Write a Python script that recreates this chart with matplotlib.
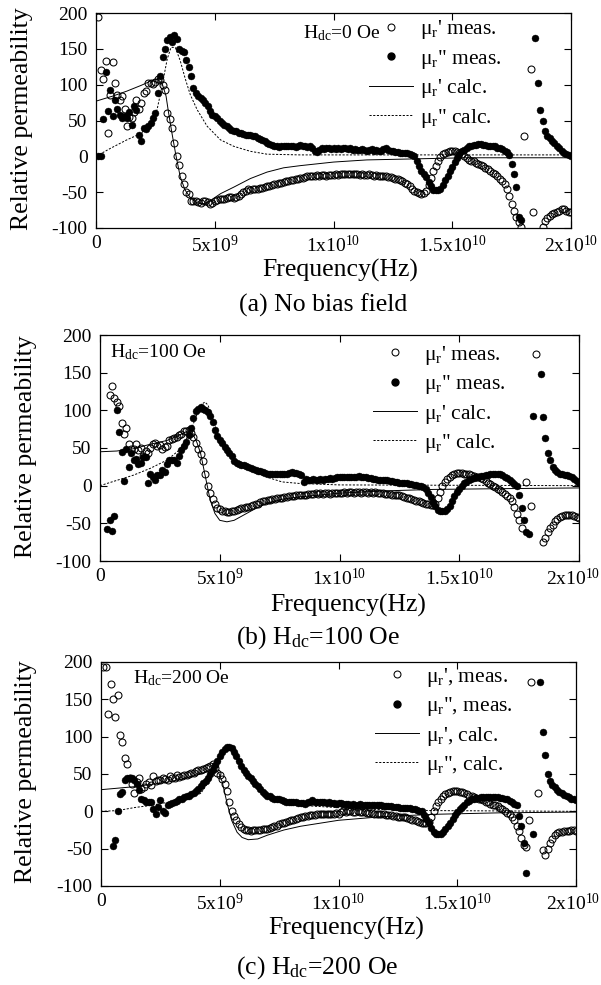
import numpy as np
import matplotlib
matplotlib.use("Agg")
import matplotlib.pyplot as plt
from matplotlib.lines import Line2D
from matplotlib.transforms import ScaledTranslation

plt.rcParams['font.family'] = 'Liberation Serif'
plt.rcParams['mathtext.fontset'] = 'custom'
plt.rcParams['mathtext.rm'] = 'Liberation Serif'
plt.rcParams['mathtext.it'] = 'Liberation Serif:italic'
plt.rcParams['mathtext.bf'] = 'Liberation Serif:bold'
plt.rcParams['axes.unicode_minus'] = False

nan = np.nan

# measurement frequencies (GHz), 0.1 GHz steps
freq_ghz = np.round(np.arange(1, 201) * 0.1, 1)

# ---- (a) no bias field ----
a_re = [194, 120, 108, 133, 32, 86, 132, 102, 86, 79,
        84, 66, 42, 55, 54, 62, 79, 66, 74, 88,
        91, 103, 102, 101, 104, 108, 106, 100, 92, 60,
        52, 40, 19, 0, -12, -27, -39, -50, -52, -63,
        -62, -63, -64, -65, -62, -63, -64, -66, -65, -62,
        -61, -60, -59, -59, -58, -57, -57, -58, -57, -55,
        -52, -50, -48, -46, -47, -46, -45, -46, -44, -44,
        -43, -42, -42, -40, -39, -39, -37, -37, -36, -35,
        -34, -33, -33, -32, -31, -30, -30, -29, -28, -28,
        -27, -27, -26, -27, -26, -26, -27, -26, -26, -26,
        -25, -26, -25, -25, -24, -25, -25, -24, -25, -25,
        -26, -25, -26, -26, -25, -26, -27, -26, -27, -27,
        -28, -28, -29, -29, -30, -31, -32, -33, -35, -37,
        -39, -42, -45, -48, -50, -51, -52, -51, -48, -40,
        -30, -20, -13, -6, -1, 3, 5, 6, 7, 8,
        7, 6, 5, 3, 0, -3, -5, -6, -7, -9,
        -11, -12, -14, -16, -18, -20, -23, -25, -28, -31,
        -34, -38, -46, -56, -66, -76, -85, -92, -98, 29,
        nan, nan, 122, -77, nan, nan, nan, -99, -90, -86,
        -83, -81, -79, -77, -76, -74, -73, -76, -77, -78]
a_im = [0, 0, 52, 117, 63, 92, 56, 79, 66, 58,
        54, 56, 53, 62, 44, 70, 65, 30, 21, 39,
        38, 42, 47, 53, 61, 88, 112, 138, 150, 163,
        166, 160, 170, 164, 150, 147, 146, 135, 124, 112,
        95, 88, 84, 81, 79, 74, 70, 63, 58, 56,
        54, 50, 46, 44, 42, 40, 37, 36, 35, 33,
        32, 31, 30, 30, 30, 29, 28, 26, 24, 23,
        21, 19, 17, 16, 14, 15, 13, 15, 14, 14,
        15, 14, 14, 13, 14, 16, 15, 14, 13, 14,
        12, 8, 6, 9, 11, 10, 12, 11, 10, 11,
        10, 11, 10, 12, 11, 10, 11, 9, 10, 9,
        9, 10, 9, 8, 9, 10, 8, 9, 8, 8,
        10, 11, 9, 8, 7, 6, 6, 5, 5, 4,
        4, 3, 2, 1, -7, -14, -20, -24, -29, -36,
        -42, -47, -47, -47, -45, -40, -33, -27, -20, -15,
        -8, -2, 3, 7, 9, 11, 14, 15, 16, 16,
        17, 17, 16, 16, 15, 15, 14, 14, 12, 11,
        10, 8, 6, 2, -10, -24, -43, -85, -89, nan,
        nan, nan, nan, nan, 165, 103, 65, 50, 36, 29,
        25, 22, 18, 14, 11, 7, 5, 3, 2, 0]
a_re_calc_f = [0, 0.7, 1.3, 1.9, 2.3, 2.6, 2.8, 2.95, 3.05, 3.2, 3.35, 3.55, 3.75,
               4.0, 4.25, 4.55, 4.85, 5.25, 5.8, 6.5, 7.2, 7.9, 8.6, 10, 11.4,
               12.8, 14.2, 15.6, 20]
a_re_calc = [77, 84, 91, 99, 105, 108, 100, 84, 62, 32, 4, -29, -47,
             -59, -65, -66, -61, -52, -43, -31, -22, -16, -13, -8, -5,
             -4, -3, -2, -2]
a_im_calc_f = [0, 0.6, 1.3, 1.9, 2.3, 2.57, 2.78, 3.0, 3.16, 3.34, 3.55, 3.76, 3.97,
               4.26, 4.68, 5.24, 5.8, 6.5, 7.2, 8.6, 20]
a_im_calc = [0, 11, 23, 32, 46, 65, 98, 136, 152, 152, 133, 108, 86,
             65, 42, 23, 14, 7, 3, 2, 2]

# ---- (b) Hdc = 100 Oe ----
b_re = [nan, nan, nan, 120, 132, 117, 111, 106, 83, 69,
        77, 55, 49, 49, 55, 47, 50, 40, 46, 43,
        50, 55, 57, 52, 54, 49, 51, 52, 60, 62,
        63, 65, 67, 69, 72, 73, 74, 70, 64, 56,
        49, 42, 33, 15, 0, -10, -18, -25, -29, -31,
        -33, -34, -35, -35, -34, -33, -32, -31, -30, -29,
        -28, -28, -27, -26, -25, -24, -22, -21, -20, -19,
        -19, -18, -18, -17, -16, -16, -15, -15, -14, -14,
        -14, -13, -13, -13, -12, -12, -11, -11, -11, -10,
        -11, -10, -11, -10, -10, -11, -10, -10, -10, -10,
        -10, -9, -10, -9, -9, -10, -9, -9, -10, -9,
        -9, -10, -9, -10, -9, -10, -10, -10, -11, -11,
        -11, -12, -12, -13, -13, -14, -15, -16, -17, -18,
        -19, -20, -21, -22, -23, -24, -25, -26, -26, -24,
        -17, -8, 0, 5, 9, 12, 14, 16, 17, 17,
        17, 16, 16, 15, 14, 13, 12, 11, 10, 9,
        6, 4, 2, 0, -2, -4, -6, -9, -11, -14,
        -17, -21, -28, -37, -46, -56, nan, 5, nan, -27,
        nan, 175, nan, nan, -75, -70, -62, -56, -52, -47,
        -44, -41, -40, -39, -39, -39, -39, -40, -41, -43]
b_im = [nan, nan, -58, -46, -60, -40, 100, 71, 45, 6,
        49, 25, 43, 34, 36, 29, 30, 38, 38, 3,
        16, 12, 8, 14, 14, 21, 18, 29, 34, 34,
        34, 30, 39, 47, 53, 58, 67, 76, 90, 99,
        102, 104, 102, 100, 98, 92, 84, 74, 66, 60,
        56, 51, 47, 43, 39, 33, 30, 29, 28, 28,
        26, 25, 23, 22, 21, 20, 19, 18, 17, 16,
        16, 16, 15, 15, 15, 16, 15, 16, 17, 18,
        17, 17, 16, 14, 5, 9, 8, 8, 9, 8,
        8, 9, 8, 9, 9, 10, 9, 10, 11, 11,
        12, 11, 12, 12, 11, 12, 12, 13, 12, 11,
        11, 10, 10, 9, 9, 8, 8, 7, 7, 7,
        6, 6, 5, 5, 4, 4, 3, 3, 2, 2,
        1, 1, 0, -1, -2, -5, -10, -15, -22, -27,
        -32, -33, -34, -33, -31, -27, -20, -14, -9, -4,
        0, 3, 5, 7, 9, 10, 11, 12, 13, 13,
        14, 14, 15, 15, 15, 15, 15, 14, 12, 10,
        8, 5, 2, 0, -13, -30, -45, -61, -64, nan,
        92, nan, nan, 148, 91, 63, 43, 34, 25, 21,
        18, 16, 15, 14, 14, 13, 12, 9, 6, 3]
b_re_calc_f = [0, 0.7, 1.4, 2.1, 2.8, 3.3, 3.7, 3.9, 4.05, 4.2, 4.4, 4.6, 4.8,
               5.0, 5.3, 5.6, 6.0, 6.4, 6.9, 7.6, 8.3, 10, 11.8, 13.9, 16.7, 20]
b_re_calc = [45, 46, 49, 55, 60, 67, 73, 67, 57, 43, 12, -19, -37,
             -46, -48, -46, -39, -32, -24, -18, -15, -10, -7, -5, -4, -3]
b_im_calc_f = [0, 0.7, 1.4, 2.1, 2.8, 3.3, 3.75, 4.0, 4.24, 4.38, 4.51, 4.72, 4.93,
               5.14, 5.42, 5.83, 6.4, 6.9, 7.6, 8.3, 10, 20]
b_im_calc = [0, 7, 14, 23, 34, 47, 69, 91, 108, 111, 107, 87, 69,
             54, 40, 29, 18, 12, 5, 3, 1, 0]

# ---- (c) Hdc = 200 Oe ----
c_re = [193, 193, 131, 171, 151, 127, 156, 102, 93, 71,
        63, 44, 37, 25, 39, 45, 30, 33, 36, 39,
        35, 47, 40, 42, 42, 44, 43, 42, 47, 45,
        44, 48, 46, 47, 48, 49, 50, 51, 52, 54,
        55, 56, 57, 58, 59, 61, 63, 58, 51, 48,
        43, 37, 27, 12, 1, -6, -12, -17, -21, -23,
        -25, -25, -26, -25, -25, -25, -25, -24, -24, -23,
        -22, -21, -20, -19, -17, -16, -15, -14, -13, -12,
        -11, -10, -9, -8, -7, -6, -6, -5, -5, -5,
        -4, -4, -4, -3, -4, -3, -3, -3, -2, -3,
        -1, 0, -1, 0, 0, -1, -1, 0, -1, -1,
        -1, -2, -2, -2, -3, -3, -3, -4, -4, -5,
        -5, -5, -6, -6, -7, -7, -8, -8, -9, -10,
        -11, -12, -13, -14, -15, -16, -16, -14, -8, 1,
        7, 12, 17, 20, 23, 25, 26, 27, 27, 27,
        26, 26, 24, 23, 21, 20, 19, 18, 17, 16,
        15, 13, 12, 10, 9, 8, 7, 5, 3, 0,
        -2, -4, -7, -12, -20, -27, -36, -45, -48, -11,
        173, nan, nan, 25, nan, -52, -59, -50, -43, -37,
        -32, -29, -28, -28, -27, -26, -26, -25, -25, -26]
c_im = [nan, nan, nan, nan, -46, -39, 0, 23, 26, 42,
        44, 45, 44, 42, 37, 28, 17, 15, 13, 12,
        12, 3, -4, 6, 15, 0, -2, 8, 10, 11,
        12, 14, 16, 17, 19, 20, 21, 23, 25, 27,
        30, 34, 38, 40, 44, 50, 56, 62, 68, 74,
        80, 84, 86, 86, 85, 80, 74, 68, 61, 55,
        51, 47, 44, 41, 37, 34, 30, 26, 23, 21,
        20, 18, 17, 16, 16, 15, 14, 13, 12, 12,
        12, 12, 11, 11, 11, 10, 12, 13, 15, 13,
        12, 12, 13, 12, 11, 12, 11, 11, 10, 11,
        11, 10, 10, 10, 9, 10, 9, 9, 10, 9,
        9, 9, 8, 9, 8, 8, 8, 8, 7, 7,
        7, 7, 6, 6, 6, 5, 5, 5, 4, 4,
        3, 3, 2, 1, 0, -5, -10, -16, -22, -28,
        -31, -31, -30, -28, -24, -19, -15, -10, -5, -1,
        3, 6, 9, 12, 14, 16, 17, 18, 18, 19,
        19, 19, 19, 19, 19, 19, 19, 18, 18, 17,
        16, 14, 12, 10, 8, -6, -19, -43, -83, nan,
        nan, -31, nan, nan, 173, 106, 75, 50, 41, 35,
        32, 28, 26, 24, 22, 21, 19, 17, 16, 15]
c_re_calc_f = [0, 0.7, 1.4, 2.1, 2.8, 3.5, 4.2, 4.6, 4.8, 4.95, 5.1, 5.3, 5.5,
               5.73, 5.94, 6.2, 6.6, 7.0, 7.7, 8.4, 10, 11.9, 14, 16.8, 20]
c_re_calc = [29, 31, 33, 36, 39, 44, 50, 55, 56, 52, 40, 12, -12,
             -28, -35, -38, -37, -32, -25, -20, -12, -7, -4, -2, -1]
c_im_calc_f = [0, 0.7, 1.4, 2.1, 2.8, 3.5, 4.2, 4.5, 4.8, 5.0, 5.2, 5.4, 5.6, 5.8,
               6.15, 6.6, 7.0, 7.7, 8.4, 11, 14, 20]
c_im_calc = [0, 1, 5, 8, 12, 17, 24, 38, 55, 70, 80, 84, 82, 68,
             50, 35, 24, 12, 8, 3, 1, 0]

xticks = [0, 5e9, 1e10, 1.5e10, 2e10]
xticklabels = ['0', '5x10$^{9}$', '1x10$^{10}$', '1.5x10$^{10}$', '2x10$^{10}$']
yticks = [-100, -50, 0, 50, 100, 150, 200]

W, H = 601, 985
fig = plt.figure(figsize=(W / 100, H / 100), dpi=100)


def px_axes(left, right, top, bottom):
    return fig.add_axes([left / W, 1 - bottom / H, (right - left) / W, (bottom - top) / H])


def panel(ax, re, im, rcf, rc, icf, ic, labels, hdc, hdc_xy, leg_xy, xl_xy, yl_xy, last_shift):
    f = freq_ghz * 1e9
    ax.plot(np.array(rcf) * 1e9, rc, color='k', lw=0.7, zorder=2)
    ax.plot(np.array(icf) * 1e9, ic, color='k', lw=0.7, ls=(0, (2.2, 1.6)), zorder=2)
    ax.plot(f, re, ls='none', marker='o', ms=5, mfc='none', mec='k', mew=0.75, zorder=3)
    ax.plot(f, im, ls='none', marker='o', ms=5, mfc='k', mec='k', mew=0.3, zorder=3)
    ax.set_xlim(0, 2e10)
    ax.set_ylim(-100, 200)
    ax.set_xticks(xticks)
    ax.set_xticklabels(xticklabels)
    ax.set_yticks(yticks)
    ax.tick_params(direction='in', top=True, right=True, length=5, width=0.8,
                   labelsize=14)
    ax.tick_params(axis='x', pad=5)
    ax.tick_params(axis='y', pad=6)
    # keep the last x label inside the figure
    last = ax.get_xticklabels()[-1]
    last.set_transform(last.get_transform() + ScaledTranslation(-last_shift / 100, 0, fig.dpi_scale_trans))
    for s in ax.spines.values():
        s.set_linewidth(0.9)
    ax.set_xlabel('Frequency(Hz)', fontsize=18.5, va='center')
    ax.xaxis.set_label_coords(*xl_xy)
    ax.set_ylabel('Relative permeability', fontsize=18.5, va='center')
    ax.yaxis.set_label_coords(*yl_xy)
    ax.text(hdc_xy[0], hdc_xy[1], hdc, transform=ax.transAxes, fontsize=14,
            ha='left', va='center')
    handles = [Line2D([], [], ls='none', marker='o', ms=5, mfc='none', mec='k', mew=0.75),
               Line2D([], [], ls='none', marker='o', ms=5, mfc='k', mec='k'),
               Line2D([], [], color='k', lw=0.7),
               Line2D([], [], color='k', lw=0.7, ls=(0, (2.2, 1.6)))]
    ax.legend(handles, labels, loc='upper left', bbox_to_anchor=leg_xy, frameon=False,
              fontsize=15.5, handlelength=2.05, handletextpad=0.3, labelspacing=0.3,
              borderpad=0, borderaxespad=0, numpoints=1)


lab_ab = ["μ$_{\\rm r}$' meas.", 'μ$_{\\rm r}$" meas.', "μ$_{\\rm r}$' calc.", 'μ$_{\\rm r}$" calc.']
lab_c = ["μ$_{\\rm r}$', meas.", 'μ$_{\\rm r}$", meas.', "μ$_{\\rm r}$', calc.", 'μ$_{\\rm r}$", calc.']

ax_a = px_axes(96, 571, 13, 228)
panel(ax_a, a_re, a_im, a_re_calc_f, a_re_calc, a_im_calc_f, a_im_calc, lab_ab,
      'H$_{\\rm dc}$=0 Oe', (0.436, 0.907), (0.575, 0.975), (0.514, -0.197), (-0.155, 0.51), 0)

ax_b = px_axes(100, 579, 335, 561)
panel(ax_b, b_re, b_im, b_re_calc_f, b_re_calc, b_im_calc_f, b_im_calc, lab_ab,
      'H$_{\\rm dc}$=100 Oe', (0.021, 0.925), (0.570, 0.962), (0.518, -0.197), (-0.155, 0.504), 6)

ax_c = px_axes(101, 576, 662, 886)
panel(ax_c, c_re, c_im, c_re_calc_f, c_re_calc, c_im_calc_f, c_im_calc, lab_c,
      'H$_{\\rm dc}$=200 Oe', (0.067, 0.929), (0.577, 0.984), (0.516, -0.19), (-0.158, 0.51), 3)

fig.text(323 / W, 1 - 305 / H, '(a) No bias field', fontsize=18.5, ha='center', va='center')
fig.text(318 / W, 1 - 638 / H, '(b) H$_{\\rm dc}$=100 Oe', fontsize=18.5, ha='center', va='center')
fig.text(317 / W, 1 - 968 / H, '(c) H$_{\\rm dc}$=200 Oe', fontsize=18.5, ha='center', va='center')

fig.savefig('out.png', dpi=100)
